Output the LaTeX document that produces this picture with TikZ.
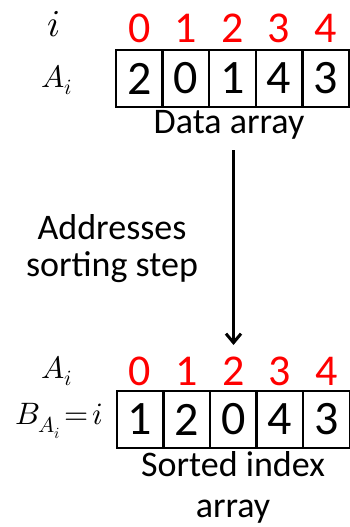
\documentclass[tikz,border=0pt]{standalone}
\usepackage{fontspec}
\setmainfont{Carlito}
\usepackage{unicode-math}
\setmathfont{Latin Modern Math}
\usetikzlibrary{arrows.meta}
\begin{document}
\begin{tikzpicture}[x=1pt,y=-1pt,
  cell/.style={draw,line width=2.4pt,minimum width=46.6pt,minimum height=57pt,inner sep=0pt,font=\fontsize{48}{50}\selectfont},
  idx/.style={text=red,inner sep=0pt,font=\fontsize{44}{46}\selectfont},
  lbl/.style={inner sep=0pt,font=\fontsize{36}{38}\selectfont,anchor=base},
  mlbl/.style={inner sep=0pt,font=\fontsize{31}{34}\selectfont}]
\useasboundingbox (0,0) rectangle (349,527);
% top array
\foreach \v [count=\k from 0] in {2,0,1,4,3} {
  \node[cell] (t\k) at (139.3+46.6*\k,78.5) {\v};
  \node[idx,anchor=base] (ti\k) at (139.3+46.6*\k,42) {\k};
}
\node[mlbl,font=\fontsize{38}{40}\selectfont,anchor=base] (ilab) at (54,37) {$i$};
\node[mlbl] (alab) at (57,80) {$A_i$};
\node[lbl] (data) at (229,133) {Data array};
% bottom array
\foreach \v [count=\k from 0] in {1,2,0,4,3} {
  \node[cell] (b\k) at (140+46.6*\k,419.5) {\v};
  \node[idx,anchor=base] (bi\k) at (140+46.6*\k,385) {\k};
}
\node[mlbl] (alab2) at (57,371) {$A_i$};
\node[mlbl] (blab) at (59,421) {$B_{A_i}\!=\!i$};
\node[lbl] (sorted) at (233,476) {Sorted index};
\node[lbl] (sorted2) at (233,517) {array};
\node[lbl] (addr) at (112,239) {Addresses};
\node[lbl] (addr2) at (112,276) {sorting step};
% arrow
\coordinate (as) at (233.5,150);
\coordinate (ae) at (233.5,345);
\draw[line width=3pt,-{Straight Barb[length=9pt,width=15pt]}] (as) -- (ae);
\end{tikzpicture}
\end{document}
